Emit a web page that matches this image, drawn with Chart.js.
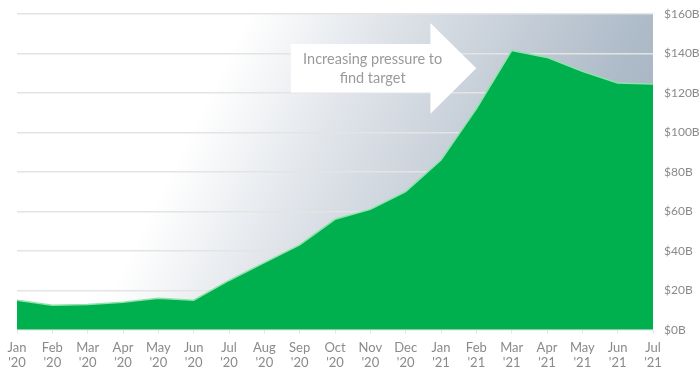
<!DOCTYPE html>
<html>
<head>
<meta charset="utf-8">
<script src="https://cdn.jsdelivr.net/npm/chart.js@4.4.0/dist/chart.umd.min.js"></script>
<style>
  html, body { margin: 0; padding: 0; background: #ffffff; }
  #wrap { width: 700px; height: 378px; position: relative; }
</style>
</head>
<body>
<div id="wrap"><canvas id="c"></canvas></div>
<script>
const months = ['Jan', 'Feb', 'Mar', 'Apr', 'May', 'Jun', 'Jul', 'Aug', 'Sep', 'Oct', 'Nov', 'Dec',
                'Jan', 'Feb', 'Mar', 'Apr', 'May', 'Jun', 'Jul'];
const years = ["'20", "'20", "'20", "'20", "'20", "'20", "'20", "'20", "'20", "'20", "'20", "'20",
               "'21", "'21", "'21", "'21", "'21", "'21", "'21"];
const values = [15, 12.5, 12.8, 14, 16, 15, 25, 34, 43, 56, 61, 70, 86, 112, 141.5, 138, 131, 125, 124.5];
const yTicks = [0, 20, 40, 60, 80, 100, 120, 140, 160];
const arrowText = ['Increasing pressure to', 'find target'];

const labels = months.map((m, i) => [m, years[i]]);

const bgPlugin = {
  id: 'bg',
  beforeDraw(chart) {
    const { ctx, chartArea: a } = chart;
    ctx.save();
    const g = ctx.createLinearGradient(a.left + a.width * 0.25, a.top, a.right, a.top + a.height * 0.75);
    g.addColorStop(0, '#ffffff');
    g.addColorStop(0.12, '#ffffff');
    g.addColorStop(0.4, '#dbe0e6');
    g.addColorStop(0.8, '#adbac8');
    g.addColorStop(1, '#a3b1c1');
    ctx.fillStyle = g;
    ctx.fillRect(a.left, a.top, a.width, a.height);
    ctx.restore();
  },
  afterDatasetsDraw(chart) {
    const { ctx } = chart;
    const x = chart.scales.x, y = chart.scales.y;
    const x0 = x.getPixelForValue(7.75), xb = x.getPixelForValue(11.7), xt = x.getPixelForValue(13.0);
    const yMidV = 132.5, bodyH = 12.3, headH = 23;
    const yc = y.getPixelForValue(yMidV);
    const bt = y.getPixelForValue(yMidV + bodyH), bb = y.getPixelForValue(yMidV - bodyH);
    const ht = y.getPixelForValue(yMidV + headH), hb = y.getPixelForValue(yMidV - headH);
    ctx.save();
    ctx.fillStyle = '#ffffff';
    ctx.beginPath();
    ctx.moveTo(x0, bt);
    ctx.lineTo(xb, bt);
    ctx.lineTo(xb, ht);
    ctx.lineTo(xt, yc);
    ctx.lineTo(xb, hb);
    ctx.lineTo(xb, bb);
    ctx.lineTo(x0, bb);
    ctx.closePath();
    ctx.fill();
    ctx.fillStyle = '#9a9a9a';
    ctx.font = '14.5px Lato';
    ctx.textAlign = 'center';
    ctx.textBaseline = 'middle';
    const cx = (x0 + xb) / 2 + 12;
    ctx.fillText(arrowText[0], cx, yc - 9);
    ctx.fillText(arrowText[1], cx, yc + 10);
    ctx.restore();
  }
};

new Chart(document.getElementById('c'), {
  type: 'line',
  data: {
    labels: labels,
    datasets: [{
      data: values,
      fill: 'origin',
      backgroundColor: '#00b04f',
      borderColor: '#8fe3aa',
      borderWidth: 1.5,
      pointRadius: 0,
      tension: 0
    }]
  },
  options: {
    responsive: true,
    maintainAspectRatio: false,
    animation: false,
    layout: { padding: { left: 17, right: 0, top: 14, bottom: 1 } },
    plugins: { legend: { display: false }, tooltip: { enabled: false } },
    scales: {
      x: {
        offset: false,
        grid: { drawOnChartArea: false, drawTicks: true, tickLength: 4, color: '#e6e6e6' },
        border: { display: false },
        ticks: { color: '#8a8a8a', font: { family: 'Lato', size: 13 }, maxRotation: 0, autoSkip: false, padding: 6 }
      },
      y: {
        position: 'right',
        min: 0, max: 160,
        afterBuildTicks(s) { s.ticks = yTicks.map(v => ({ value: v })); },
        afterFit(s) { s.width = 47; s.paddingTop = 0; s.paddingBottom = 0; },
        grid: { color: '#e4e4e4', lineWidth: 1.5, drawTicks: false },
        border: { display: false },
        ticks: { color: '#8a8a8a', font: { family: 'Lato', size: 12 }, padding: 11,
                 callback: v => '$' + v + 'B' }
      }
    }
  },
  plugins: [bgPlugin]
});
</script>
</body>
</html>
